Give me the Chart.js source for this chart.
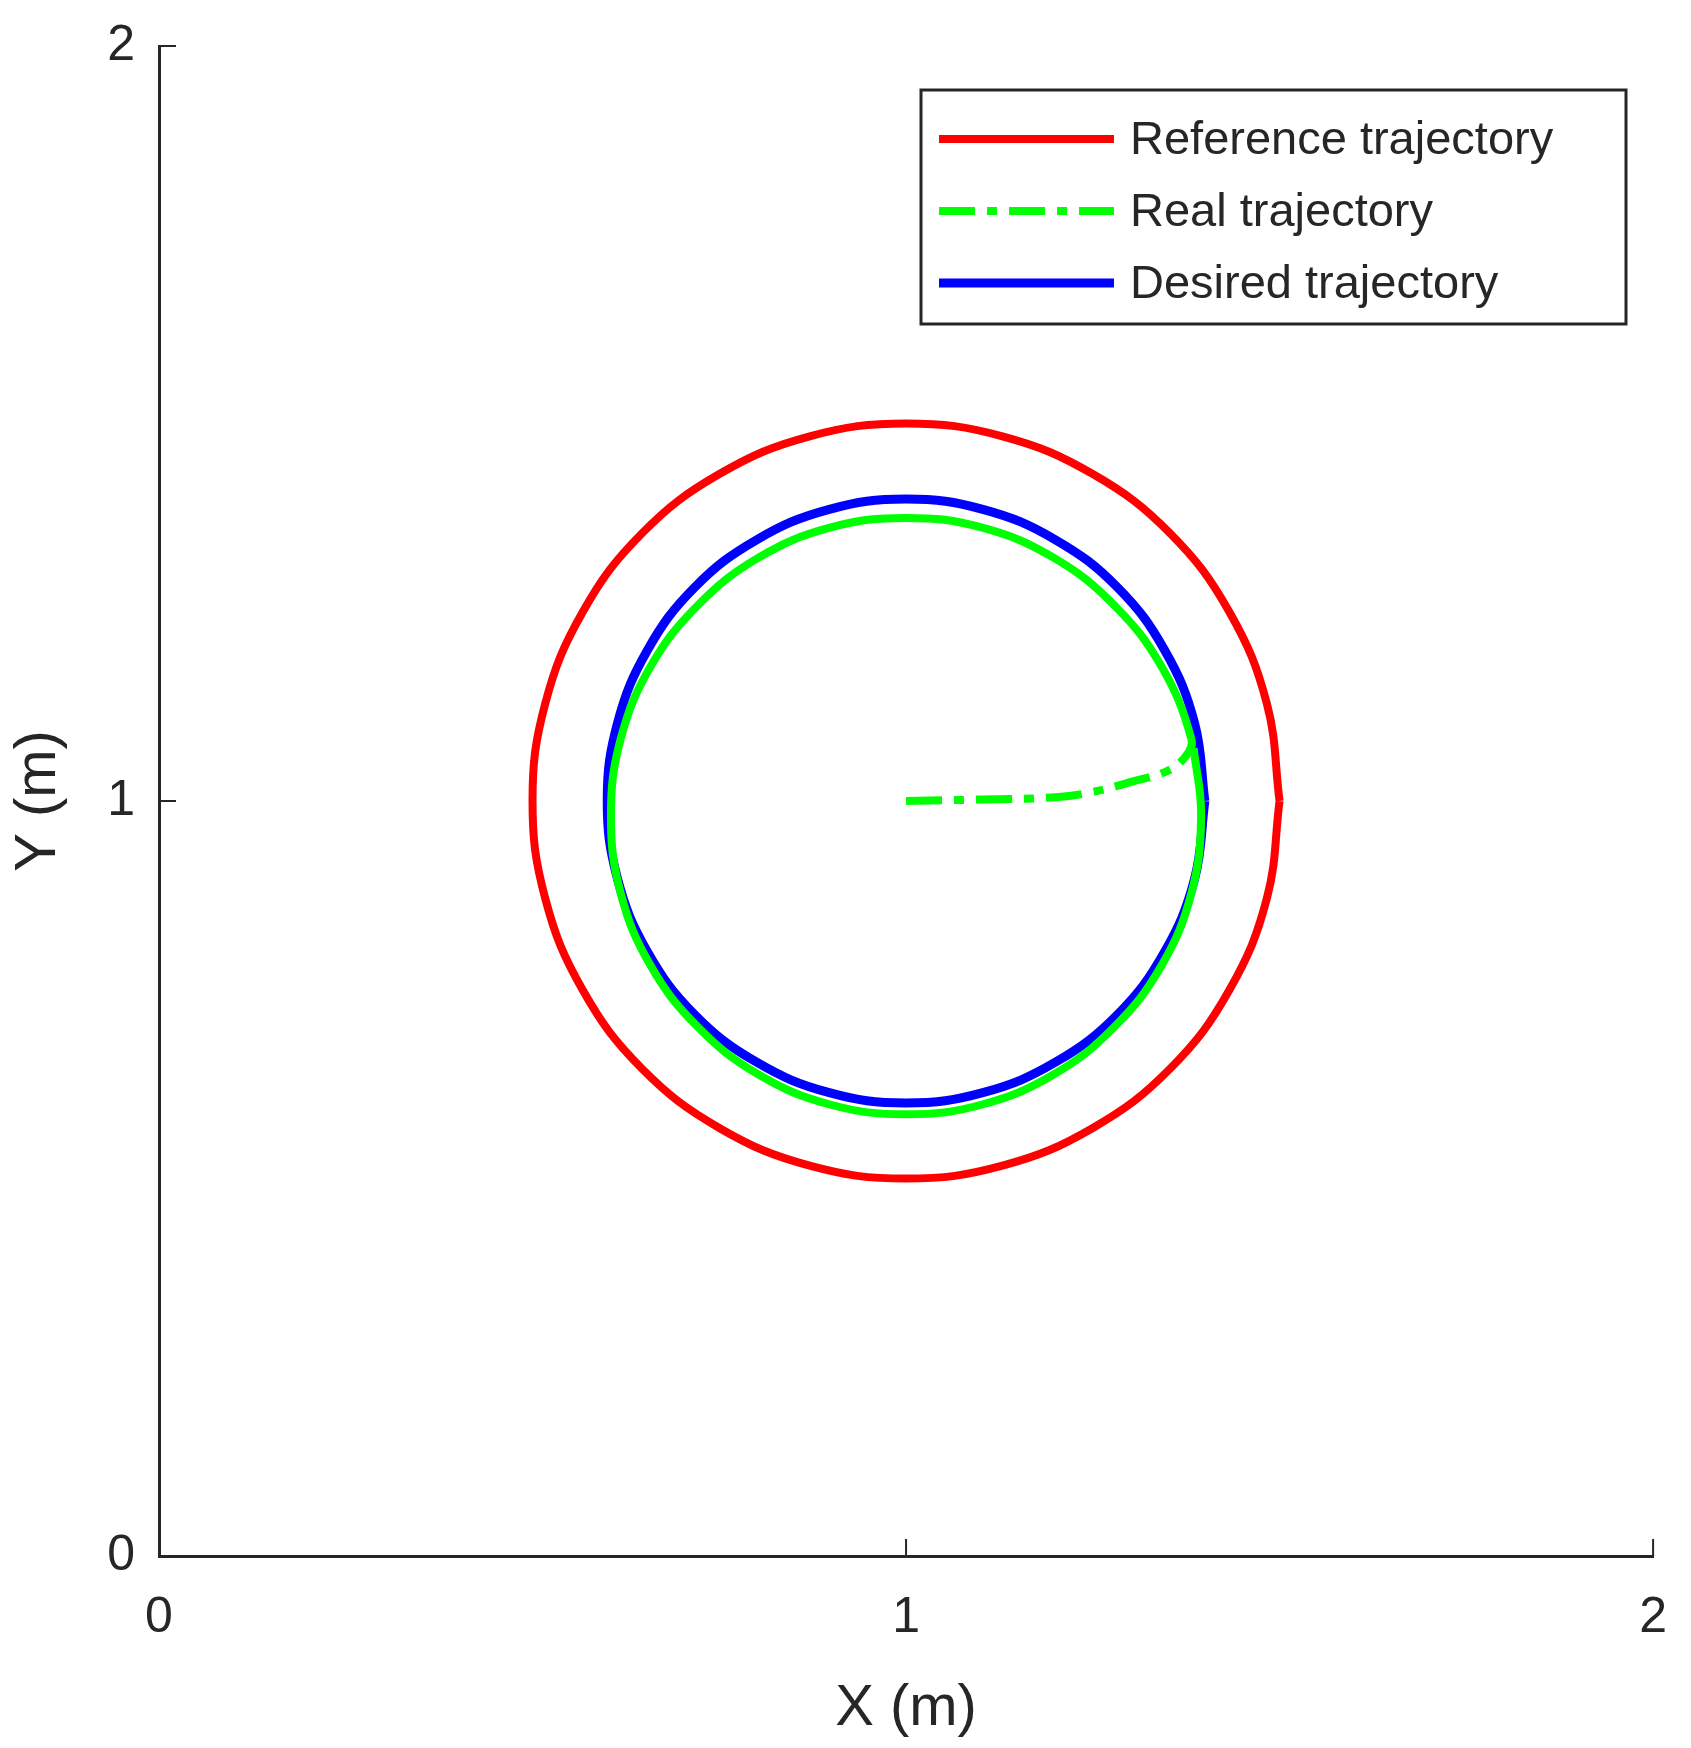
<!DOCTYPE html>
<html>
<head>
<meta charset="utf-8">
<script src="https://cdn.jsdelivr.net/npm/chart.js@4"></script>
<style>
  html, body { margin: 0; padding: 0; background: #fff; }
  #wrap { width: 1691px; height: 1748px; }
</style>
</head>
<body>
<div id="wrap"><canvas id="chart" width="1691" height="1748"></canvas></div>
<script>
const refX = [1.5,1.483,1.433,1.354,1.25,1.129,1,0.871,0.75,0.646,0.567,0.517,0.5,0.517,0.567,0.646,0.75,0.871,1,1.129,1.25,1.354,1.433,1.483,1.5];
const refY = [1,1.129,1.25,1.354,1.433,1.483,1.5,1.483,1.433,1.354,1.25,1.129,1,0.871,0.75,0.646,0.567,0.517,0.5,0.517,0.567,0.646,0.75,0.871,1];

const desX = [1.4,1.386,1.346,1.283,1.2,1.104,1,0.896,0.8,0.717,0.654,0.614,0.6,0.614,0.654,0.717,0.8,0.896,1,1.104,1.2,1.283,1.346,1.386,1.4];
const desY = [1,1.104,1.2,1.283,1.346,1.386,1.4,1.386,1.346,1.283,1.2,1.104,1,0.896,0.8,0.717,0.654,0.614,0.6,0.614,0.654,0.717,0.8,0.896,1];

const realX = [1,1.1,1.2,1.25,1.3,1.35,1.375,1.382,1.342,1.279,1.198,1.102,1,0.898,0.802,0.721,0.658,0.618,0.605,0.618,0.658,0.721,0.802,0.898,1,1.102,1.198,1.279,1.342,1.382,1.395,1.385];
const realY = [1,1.002,1.005,1.012,1.025,1.04,1.06,1.082,1.178,1.259,1.322,1.362,1.375,1.362,1.322,1.259,1.178,1.082,0.98,0.878,0.782,0.701,0.638,0.598,0.585,0.598,0.638,0.701,0.782,0.878,0.98,1.07];
const dashedSegments = 7;

const tickValues = [0, 1, 2];
const legendLabels = ["Reference trajectory", "Real trajectory", "Desired trajectory"];

const RED = "#ff0000", GREEN = "#00ff00", BLUE = "#0000ff", AXIS = "#262626";
const DASHDOT = [36, 12, 10, 12];

function toPoints(xs, ys) {
    return xs.map((x, i) => ({ x: x, y: ys[i] }));
}

// inward ticks, like the original
const innerTicks = {
    id: "innerTicks",
    afterDraw(c) {
        const ctx = c.ctx, xs = c.scales.x, ys = c.scales.y;
        ctx.save();
        ctx.strokeStyle = AXIS;
        ctx.lineWidth = 2;
        tickValues.forEach(v => {
            let px = xs.getPixelForValue(v);
            ctx.beginPath(); ctx.moveTo(px, ys.bottom); ctx.lineTo(px, ys.bottom - 17); ctx.stroke();
            let py = ys.getPixelForValue(v);
            ctx.beginPath(); ctx.moveTo(xs.left, py); ctx.lineTo(xs.left + 17, py); ctx.stroke();
        });
        ctx.restore();
    }
};

// boxed legend at top right
const boxLegend = {
    id: "boxLegend",
    afterDraw(c) {
        const ctx = c.ctx;
        const x0 = 921, y0 = 90, w = 705, h = 234;
        const colors = [RED, GREEN, BLUE];
        const widths = [8, 8, 9];
        ctx.save();
        ctx.fillStyle = "#fff";
        ctx.fillRect(x0, y0, w, h);
        ctx.strokeStyle = AXIS;
        ctx.lineWidth = 3;
        ctx.strokeRect(x0, y0, w, h);
        ctx.font = "47px 'Liberation Sans', Arial, sans-serif";
        ctx.textBaseline = "middle";
        legendLabels.forEach((label, i) => {
            let yy = y0 + 49 + i * 72;
            ctx.strokeStyle = colors[i];
            ctx.lineWidth = widths[i];
            ctx.setLineDash(i === 1 ? DASHDOT : []);
            ctx.beginPath(); ctx.moveTo(939, yy); ctx.lineTo(1114, yy); ctx.stroke();
            ctx.setLineDash([]);
            ctx.fillStyle = AXIS;
            ctx.fillText(label, 1130, yy + 2);
        });
        ctx.restore();
    }
};

const chart = new Chart(document.getElementById("chart").getContext("2d"), {
    type: "scatter",
    data: {
        datasets: [
            {
                label: legendLabels[0],
                data: toPoints(refX, refY),
                showLine: true, borderColor: RED, borderWidth: 8,
                pointRadius: 0, tension: 0.4
            },
            {
                label: legendLabels[1],
                data: toPoints(realX, realY),
                showLine: true, borderColor: GREEN, borderWidth: 8,
                pointRadius: 0, tension: 0.4,
                segment: {
                    borderDash: ctx => ctx.p0DataIndex < dashedSegments ? DASHDOT : []
                }
            },
            {
                label: legendLabels[2],
                data: toPoints(desX, desY),
                showLine: true, borderColor: BLUE, borderWidth: 9,
                pointRadius: 0, tension: 0.4
            }
        ]
    },
    options: {
        responsive: false,
        animation: false,
        layout: { padding: { top: 41, right: 18, left: 0, bottom: 0 } },
        plugins: { legend: { display: false }, tooltip: { enabled: false } },
        scales: {
            x: {
                type: "linear", min: 0, max: 2,
                afterBuildTicks: s => { s.ticks = tickValues.map(v => ({ value: v })); },
                afterFit: s => { s.height = 192; },
                grid: { display: false },
                border: { display: true, color: AXIS, width: 3 },
                ticks: { color: AXIS, font: { size: 50, family: "'Liberation Sans', Arial" }, padding: 24, maxRotation: 0 },
                title: { display: true, text: "X (m)", color: AXIS, font: { size: 58, family: "'Liberation Sans', Arial" }, padding: { top: 4 } }
            },
            y: {
                type: "linear", min: 0, max: 2,
                afterBuildTicks: s => { s.ticks = tickValues.map(v => ({ value: v })); },
                afterFit: s => { s.width = 159; },
                grid: { display: false },
                border: { display: true, color: AXIS, width: 3 },
                ticks: { color: AXIS, font: { size: 50, family: "'Liberation Sans', Arial" }, padding: 16 },
                title: { display: true, text: "Y (m)", color: AXIS, font: { size: 58, family: "'Liberation Sans', Arial" }, padding: { bottom: 10 } }
            }
        }
    },
    plugins: [innerTicks, boxLegend]
});
</script>
</body>
</html>
